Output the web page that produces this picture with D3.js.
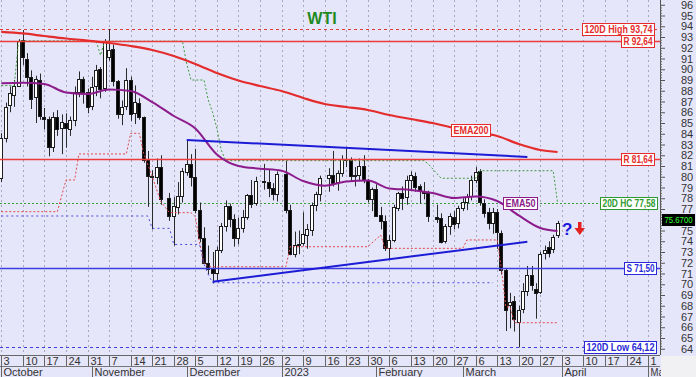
<!DOCTYPE html>
<html>
<head>
<meta charset="utf-8">
<script src="https://cdn.jsdelivr.net/npm/d3@7"></script>
<style>
  html, body { margin: 0; padding: 0; background: #fff; }
  svg { display: block; font-family: "Liberation Sans", Arial, sans-serif; }
</style>
</head>
<body>
<svg id="chart" width="696" height="377"></svg>
<script>
// ---- daily WTI candles ----
const days = [
  "2022-10-03","2022-10-04","2022-10-05","2022-10-06","2022-10-07","2022-10-10","2022-10-11","2022-10-12","2022-10-13","2022-10-14",
  "2022-10-17","2022-10-18","2022-10-19","2022-10-20","2022-10-21","2022-10-24","2022-10-25","2022-10-26","2022-10-27","2022-10-28",
  "2022-10-31","2022-11-01","2022-11-02","2022-11-03","2022-11-04","2022-11-07","2022-11-08","2022-11-09","2022-11-10","2022-11-11",
  "2022-11-14","2022-11-15","2022-11-16","2022-11-17","2022-11-18","2022-11-21","2022-11-22","2022-11-23","2022-11-25","2022-11-28",
  "2022-11-29","2022-11-30","2022-12-01","2022-12-02","2022-12-05","2022-12-06","2022-12-07","2022-12-08","2022-12-09","2022-12-12",
  "2022-12-13","2022-12-14","2022-12-15","2022-12-16","2022-12-19","2022-12-20","2022-12-21","2022-12-22","2022-12-23","2022-12-27",
  "2022-12-28","2022-12-29","2022-12-30","2023-01-03","2023-01-04","2023-01-05","2023-01-06","2023-01-09","2023-01-10","2023-01-11",
  "2023-01-12","2023-01-13","2023-01-17","2023-01-18","2023-01-19","2023-01-20","2023-01-23","2023-01-24","2023-01-25","2023-01-26",
  "2023-01-27","2023-01-30","2023-01-31","2023-02-01","2023-02-02","2023-02-03","2023-02-06","2023-02-07","2023-02-08","2023-02-09",
  "2023-02-10","2023-02-13","2023-02-14","2023-02-15","2023-02-16","2023-02-17","2023-02-21","2023-02-22","2023-02-23","2023-02-24",
  "2023-02-27","2023-02-28","2023-03-01","2023-03-02","2023-03-03","2023-03-06","2023-03-07","2023-03-08","2023-03-09","2023-03-10",
  "2023-03-13","2023-03-14","2023-03-15","2023-03-16","2023-03-17","2023-03-20","2023-03-21","2023-03-22","2023-03-23","2023-03-24",
  "2023-03-27","2023-03-28","2023-03-29","2023-03-30","2023-03-31"
];
const open = [
  79.9,83.6,86.6,87.6,88.5,92.7,91.0,89.3,87.4,89.0,
  85.6,85.4,82.8,85.6,84.5,85.0,84.5,85.3,87.9,89.1,
  87.9,86.6,88.4,90.0,88.2,91.1,91.9,88.9,85.8,86.5,
  89.0,85.9,86.9,85.6,81.6,80.1,80.0,80.9,78.0,76.3,
  77.2,78.2,80.5,81.2,80.0,76.9,74.3,72.0,71.5,71.0,
  73.2,75.4,77.3,76.1,74.3,75.2,76.2,78.3,77.5,79.6,
  79.5,79.0,78.4,80.3,76.9,72.8,73.7,73.8,74.6,75.1,
  77.4,78.4,79.9,80.2,79.5,80.3,81.6,81.6,80.1,80.2,
  81.0,79.7,77.9,78.9,76.4,75.9,73.4,74.1,77.1,78.5,
  78.1,79.7,80.1,79.1,78.6,78.5,76.3,76.2,74.0,75.4,
  76.3,75.7,77.1,77.7,78.2,79.7,80.5,77.6,76.7,75.7,
  76.7,74.8,71.3,68.1,68.4,66.5,67.7,69.4,70.9,69.6,
  69.3,72.9,73.5,73.3,74.6
];
const high = [
  84.05,86.9,88.4,89.0,92.8,93.64,91.5,89.9,89.4,89.6,
  86.4,85.6,86.0,86.2,85.8,85.9,85.6,88.4,89.8,89.3,
  88.2,89.3,90.4,90.2,92.8,93.74,92.3,89.0,87.1,90.1,
  89.3,88.5,87.3,85.6,82.4,80.6,81.7,82.0,78.5,78.1,
  79.5,80.8,83.34,82.1,82.6,77.6,75.3,73.6,73.0,73.5,
  75.7,77.8,77.5,76.5,76.2,76.9,78.4,79.7,80.0,81.2,
  80.7,79.4,80.5,81.5,77.4,74.9,75.0,76.7,75.6,77.6,
  78.6,80.1,80.8,82.4,80.6,82.0,82.6,81.8,80.9,81.7,
  82.0,79.8,79.0,79.3,77.2,76.4,74.6,77.4,78.6,79.1,
  80.1,80.5,80.4,79.3,79.5,78.7,77.4,76.6,75.6,76.6,
  76.8,77.3,78.0,78.4,80.1,80.9,80.7,77.9,77.1,77.1,
  77.0,75.0,71.5,69.2,68.9,68.0,70.1,71.7,71.7,70.1,
  73.0,73.6,74.0,74.6,75.9
];
const low = [
  79.5,83.2,86.0,86.5,88.4,90.4,88.4,86.3,85.0,85.3,
  84.4,81.9,82.3,83.8,82.1,82.7,83.8,84.7,87.4,86.8,
  85.9,86.2,87.5,87.3,87.9,90.8,88.4,85.4,84.8,86.2,
  85.2,84.9,85.3,81.3,77.2,75.1,79.3,77.4,75.9,73.6,
  76.5,77.6,80.1,79.1,76.6,73.9,71.9,70.9,70.08,70.3,
  72.9,74.9,75.3,73.5,73.7,74.8,76.0,77.1,77.3,78.8,
  78.1,77.8,77.7,76.6,72.7,72.5,72.8,73.6,73.3,74.5,
  76.8,77.7,78.6,79.1,78.7,80.0,80.9,79.6,79.1,79.6,
  79.4,77.6,76.8,76.4,75.1,73.1,72.25,73.9,76.8,76.9,
  77.4,78.8,78.6,77.5,77.9,75.8,75.7,73.8,73.8,74.6,
  75.1,75.2,76.8,76.9,77.8,79.4,77.3,76.2,75.1,74.7,
  73.3,70.9,65.65,65.9,65.6,64.12,67.3,68.9,69.4,66.8,
  69.1,72.3,72.5,72.9,74.3
];
const close = [
  83.63,86.52,87.76,88.45,92.64,91.13,89.35,87.27,89.11,85.61,
  85.46,82.82,85.55,84.51,85.05,84.58,85.32,87.91,89.08,87.90,
  86.53,88.37,89.90,88.17,92.61,91.79,88.91,85.83,86.47,88.96,
  85.87,86.92,85.59,81.64,80.08,80.04,80.95,77.94,76.28,77.24,
  78.20,80.55,81.22,79.98,76.93,74.25,72.01,71.46,71.02,73.17,
  75.39,77.28,76.11,74.29,75.19,76.23,78.29,77.49,79.56,79.53,
  78.96,78.40,80.26,76.93,72.84,73.67,73.77,74.63,75.12,77.41,
  78.39,79.86,80.18,79.48,80.33,81.64,81.62,80.13,80.15,81.01,
  79.68,77.90,78.87,76.41,75.88,73.39,74.11,77.14,78.47,78.06,
  79.72,80.14,79.06,78.59,78.49,76.34,76.16,73.95,75.39,76.32,
  75.68,77.05,77.69,78.16,79.68,80.46,77.58,76.66,75.72,76.68,
  74.80,71.33,67.61,68.35,66.74,67.64,69.33,70.90,69.96,69.26,
  72.81,73.20,72.97,74.37,75.67
];

// ---- moving averages, sampled weekly off the picture ----
const emaDates = [
  "2022-10-03","2022-10-10","2022-10-17","2022-10-24","2022-10-31","2022-11-07","2022-11-14","2022-11-21","2022-11-28",
  "2022-12-05","2022-12-12","2022-12-19","2022-12-26","2023-01-02","2023-01-09","2023-01-16","2023-01-23","2023-01-30",
  "2023-02-06","2023-02-13","2023-02-20","2023-02-27","2023-03-06","2023-03-13","2023-03-20","2023-03-27","2023-03-31"
];
const ema200 = [93.47,93.33,93.09,92.86,92.67,92.44,92.16,91.79,91.23,90.49,89.65,88.95,88.44,87.98,87.33,86.77,86.49,86.21,85.74,85.37,85.0,84.53,84.16,83.79,83.05,82.49,82.30];
const ema50  = [88.7,88.75,88.63,87.84,87.7,88.12,87.98,86.95,85.65,84.49,82.07,81.0,80.75,80.56,79.6,79.17,79.56,79.65,78.91,78.77,78.49,78.02,78.16,77.74,76.4,75.23,74.95];

// ---- channel lines (20D lowest close, 20D highest close, lowest low) ----
const lowCloseLine = [
  ["2022-10-03",76.75],["2022-10-20",76.75],["2022-10-24",79.70],["2022-10-26",79.70],["2022-10-27",82.12],["2022-11-11",82.12],
  ["2022-11-14",84.04],["2022-11-16",84.04],["2022-11-17",82.21],["2022-11-21",80.0],["2022-11-23",77.68],["2022-11-25",76.66],
  ["2022-12-02",76.66],["2022-12-05",76.28],["2022-12-06",73.81],["2022-12-07",71.98],["2022-12-08",71.63],["2023-01-03",71.63],
  ["2023-01-04",73.49],["2023-01-30",73.49],["2023-02-02",74.58],["2023-02-03",73.34],["2023-03-01",73.34],["2023-03-02",74.12],
  ["2023-03-13",74.12],["2023-03-14",71.4],["2023-03-15",67.9],["2023-03-16",67.9],["2023-03-17",66.42],["2023-03-31",66.42]
];
const highCloseLine = [
  ["2022-10-03",88.48],["2022-10-06",88.48],["2022-10-07",92.64],["2022-11-02",92.64],["2022-11-03",91.3],["2022-11-04",92.61],
  ["2022-11-30",92.61],["2022-12-01",90.5],["2022-12-02",89.0],["2022-12-07",89.0],["2022-12-08",87.14],["2022-12-09",86.0],
  ["2022-12-12",84.5],["2022-12-13",82.5],["2022-12-14",81.5],["2023-02-16",81.5],["2023-02-17",81.2],["2023-02-21",80.3],
  ["2023-02-22",79.86],["2023-03-06",79.86],["2023-03-07",80.56],["2023-03-30",80.56],["2023-03-31",77.58]
];
const lowLowLine = [
  ["2022-10-03",76.35],["2022-11-18",76.35],["2022-11-21",75.2],["2022-11-25",75.2],["2022-11-28",73.7],["2022-12-06",73.7],
  ["2022-12-07",71.9],["2022-12-08",70.9],["2022-12-09",70.14],["2023-03-10",70.14]
];

// ---- triangle ----
const triUpper = [["2022-12-01",83.42],["2023-03-22",81.84]];
const triLower = [["2022-12-09",70.24],["2023-03-22",73.96]];

// ---- horizontal levels ----
const levelNames  = ["120D High","R","R","20D HC","S","120D Low"];
const levelValues = [93.74, 92.64, 81.64, 77.58, 71.50, 64.12];
const lastPrice = 75.67;

// ---- axis labels ----
const monthStarts = ["2022-10-03","2022-11-01","2022-12-01","2023-01-02","2023-02-01","2023-03-01","2023-04-03","2023-05-01"];
const monthLabels = ["October","November","December","2023","February","March","April","May"];
const priceTicks = d3.range(64, 97);

// ================= drawing =================
const W = 696, H = 377, plotR = 660, plotB = 355;
const red = "#e42c2c", green = "#2f9a2f", blue = "#2a2ad8", purple = "#8c1c8c";

const parse = d3.timeParse("%Y-%m-%d");
const origin = parse("2022-10-03");
// weekday index, counted from Mon 3 Oct 2022
function wd(s) {
  const d = typeof s === "string" ? parse(s) : s;
  const n = d3.timeDay.count(origin, d);
  return Math.floor(n / 7) * 5 + Math.min(n % 7, 5);
}
const x = d3.scaleLinear().domain([0, 150]).range([1.3, 648.1]);
const y = d3.scaleLinear().domain([64, 96]).range([348.75, 4.75]);
const cx = s => Math.round(x(wd(s)));

const svg = d3.select("#chart");
svg.append("rect").attr("width", W).attr("height", H).attr("fill", "#e6e6fa");
svg.append("rect").attr("x", plotR + 1).attr("y", plotB + 1).attr("width", W - plotR).attr("height", H - plotB)
  .attr("fill", "#f1f1f4");

const defs = svg.append("defs");
defs.append("clipPath").attr("id", "plotClip").append("rect").attr("width", plotR).attr("height", plotB);
defs.append("clipPath").attr("id", "axisClip").append("rect").attr("width", plotR + 1).attr("height", H);

const plot = svg.append("g").attr("clip-path", "url(#plotClip)");

// vertical grid at every Monday
const mondays = d3.timeMonday.range(parse("2022-10-03"), parse("2023-05-02"));
plot.append("g").selectAll("line").data(mondays).join("line")
  .attr("x1", d => cx(d) + 0.5).attr("x2", d => cx(d) + 0.5)
  .attr("y1", 0).attr("y2", plotB)
  .attr("stroke", "#a6a6bc").attr("stroke-dasharray", "2,3");

// horizontal levels: dotted ones under the candles, solid ones later on top of the channel lines
const levelStyle = [
  { c: "#e63838", dash: "3,3" },
  { c: "#ec3c3c", dash: null },
  { c: "#ec3c3c", dash: null },
  { c: "#3a9e3a", dash: "2,2" },
  { c: "#3d3de0", dash: null },
  { c: "#3d3de0", dash: "3,3" }
];
function drawLevels(layer, solid) {
  layer.append("g").selectAll("line")
    .data(levelValues.map((v, i) => ({ v, s: levelStyle[i] })).filter(d => (d.s.dash === null) === solid))
    .join("line")
    .attr("x1", 0).attr("x2", plotR)
    .attr("y1", d => Math.round(y(d.v)) + 0.5).attr("y2", d => Math.round(y(d.v)) + 0.5)
    .attr("stroke", d => d.s.c)
    .attr("stroke-width", solid ? 1.3 : 1)
    .attr("stroke-dasharray", d => d.s.dash);
}
drawLevels(plot, false);

// candles
const candles = days.map((d, i) => ({ d, o: open[i], h: high[i], l: low[i], c: close[i] }));
const cg = plot.append("g");
cg.selectAll("line").data(candles).join("line")
  .attr("x1", d => cx(d.d) + 0.5).attr("x2", d => cx(d.d) + 0.5)
  .attr("y1", d => y(d.h)).attr("y2", d => y(d.l))
  .attr("stroke", "#2a2a2a");
cg.selectAll("rect").data(candles).join("rect")
  .attr("x", d => cx(d.d) - 1.5).attr("width", 3)
  .attr("y", d => Math.round(y(Math.max(d.o, d.c))) + 0.5)
  .attr("height", d => Math.max(1, Math.round(Math.abs(y(d.o) - y(d.c)))))
  .attr("fill", d => d.c >= d.o ? "#ffffff" : "#000000")
  .attr("stroke", "#1e1e1e");

// channel lines
const pathOf = d3.line().x(d => x(wd(d[0]))).y(d => y(d[1]));
plot.append("path").datum(lowCloseLine).attr("d", pathOf)
  .attr("fill", "none").attr("stroke", "#e04848").attr("stroke-dasharray", "2,2");
plot.append("path").datum(highCloseLine).attr("d", pathOf)
  .attr("fill", "none").attr("stroke", "#3c9c3c").attr("stroke-dasharray", "2,2");
plot.append("path").datum(lowLowLine).attr("d", pathOf)
  .attr("fill", "none").attr("stroke", "#4a4ae0").attr("stroke-dasharray", "2,3");

drawLevels(plot, true);

// EMAs
const smooth = d3.line().x(d => x(wd(d[0]))).y(d => y(d[1])).curve(d3.curveMonotoneX);
plot.append("path").datum(d3.zip(emaDates, ema200)).attr("d", smooth)
  .attr("fill", "none").attr("stroke", red).attr("stroke-width", 2.2);
plot.append("path").datum(d3.zip(emaDates, ema50)).attr("d", smooth)
  .attr("fill", "none").attr("stroke", purple).attr("stroke-width", 2);

// triangle
[triUpper, triLower].forEach(t => {
  plot.append("path").datum(t).attr("d", pathOf)
    .attr("fill", "none").attr("stroke", "#1c1cd6").attr("stroke-width", 2);
});

// ---- y axis ----
svg.append("line").attr("x1", plotR + 0.5).attr("x2", plotR + 0.5).attr("y1", 0).attr("y2", plotB)
  .attr("stroke", "#555");
const yAxis = svg.append("g").attr("transform", `translate(${plotR},0)`)
  .call(d3.axisRight(y).tickValues(priceTicks).tickSize(5).tickPadding(16)
    .tickFormat(v => Math.abs(v - lastPrice) < 0.6 ? "" : d3.format("d")(v)));  // label under the price box is hidden
yAxis.select(".domain").remove();
yAxis.selectAll("line").attr("stroke", "#555");
yAxis.selectAll("text").attr("font-size", 11).attr("fill", "#333").attr("font-family", "Liberation Sans, Arial, sans-serif");
const minor = svg.append("g").attr("transform", `translate(${plotR},0)`)
  .call(d3.axisRight(y).tickValues(d3.range(64, 96.01, 0.25).filter(v => v % 1 !== 0)).tickSize(2).tickFormat(""));
minor.select(".domain").remove();
minor.selectAll("line").attr("stroke", "#666");

// ---- x axis band ----
const xa = svg.append("g").attr("clip-path", "url(#axisClip)");
xa.append("line").attr("x1", 0).attr("x2", plotR).attr("y1", plotB + 0.5).attr("y2", plotB + 0.5).attr("stroke", "#666");
xa.append("line").attr("x1", 0).attr("x2", plotR).attr("y1", 366.5).attr("y2", 366.5).attr("stroke", "#777");
xa.selectAll("line.day").data(mondays).join("line").attr("class", "day")
  .attr("x1", d => cx(d) + 0.5).attr("x2", d => cx(d) + 0.5).attr("y1", plotB).attr("y2", 366)
  .attr("stroke", "#666");
const fmtDay = d3.timeFormat("%-d");
xa.selectAll("text.day").data(mondays).join("text").attr("class", "day")
  .attr("x", d => cx(d) + 2.5).attr("y", 364.5)
  .attr("font-size", 11).attr("fill", "#333").text(d => fmtDay(d));
xa.selectAll("line.mon").data(monthStarts).join("line").attr("class", "mon")
  .attr("x1", d => cx(d) + 0.5).attr("x2", d => cx(d) + 0.5).attr("y1", 366).attr("y2", H)
  .attr("stroke", "#666");
xa.selectAll("text.mon").data(monthStarts).join("text").attr("class", "mon")
  .attr("x", d => Math.max(cx(d), 0) + 2.5).attr("y", 375.5)
  .attr("font-size", 11).attr("fill", "#333")
  .attr("textLength", (d, i) => i === monthLabels.length - 1 ? 18 : null)
  .attr("lengthAdjust", "spacingAndGlyphs")
  .text((d, i) => monthLabels[i]);

// ---- tags ----
function tag(xr, yc, text, color, tw, opt = {}) {
  const h = opt.h || 12, pad = 2, w = tw + 2 * pad;
  const top = Math.round(yc - h / 2) + 0.5;
  svg.append("rect").attr("x", xr - w + 0.5).attr("y", top).attr("width", w).attr("height", h)
    .attr("fill", opt.fill || "#ffffff").attr("stroke", color);
  svg.append("text").attr("x", xr - w / 2 + 0.5).attr("y", top + h / 2).attr("dy", "0.36em")
    .attr("text-anchor", "middle").attr("font-size", opt.size || 11)
    .attr("font-weight", opt.weight || "bold").attr("fill", opt.textFill || color)
    .attr("textLength", tw).attr("lengthAdjust", "spacingAndGlyphs").text(text);
}
const comma = v => d3.format(".2f")(v).replace(".", ",");
const tagColor = [red, red, red, green, blue, blue];
const tagRight = [654, 654, 654, 657, 656, 656];
const tagWidth = [68, 29, 29, 53, 28, 68];
levelValues.forEach((v, i) => {
  tag(tagRight[i], y(v), levelNames[i] + " " + comma(v), tagColor[i], tagWidth[i]);
});
tag(490, 129.5, "EMA200", red, 35, { size: 10.5 });
tag(537, 202.5, "EMA50", purple, 30, { size: 10.5 });
tag(694, 219.5, d3.format(".4f")(lastPrice), "#000", 28, { fill: "#000", textFill: "#33ff33", weight: "normal", size: 9, h: 11 });

// question mark and arrow
svg.append("text").attr("x", 562).attr("y", 235).attr("font-size", 17).attr("font-weight", "bold")
  .attr("fill", "#1818e0").text("?");
svg.append("path").attr("d", "M578,222 h3.5 v6 h3.5 l-5.25,7 l-5.25,-7 h3.5 z").attr("fill", "#e42222");

// title
svg.append("text").attr("x", 322).attr("y", 24).attr("text-anchor", "middle")
  .attr("font-size", 16).attr("font-weight", "bold").attr("fill", "#1f8a1f").text("WTI");
</script>
</body>
</html>
